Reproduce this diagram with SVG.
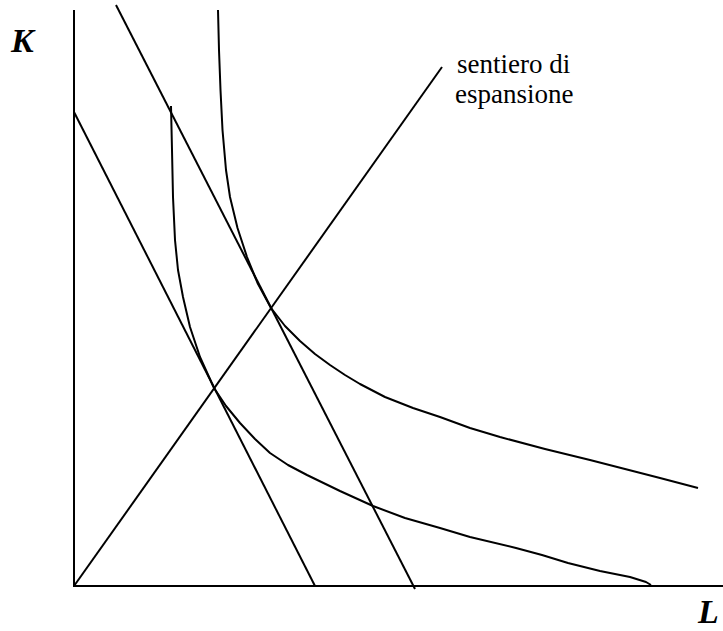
<svg xmlns="http://www.w3.org/2000/svg" width="723" height="631" viewBox="0 0 723 631">
<style>
.ln{fill:none;stroke:#000;stroke-width:2;stroke-linejoin:round;stroke-linecap:butt}
.ax{font-family:"Liberation Serif","Times New Roman",serif;font-style:italic;font-weight:bold;font-size:34px;fill:#000}
.lb{font-family:"Liberation Serif","Times New Roman",serif;font-size:27px;fill:#000}
</style>
<rect width="723" height="631" fill="#fff"/>
<g id="axes">
<line class="ln" x1="74" y1="10" x2="74" y2="587"/>
<line class="ln" x1="73" y1="586" x2="723" y2="586"/>
<text class="ax" x="11" y="52">K</text>
<text class="ax" x="698" y="623">L</text>
</g>
<g id="budget-lines">
<line class="ln" x1="74" y1="112" x2="315" y2="586"/>
<line class="ln" x1="116" y1="5" x2="415" y2="589"/>
</g>
<g id="expansion-path">
<line class="ln" x1="74" y1="586" x2="442" y2="67"/>
<text class="lb" x="457" y="73">sentiero di</text>
<text class="lb" x="455" y="103">espansione</text>
</g>
<g id="isoquants">
<polyline class="ln" points="171,106 172,150 173,197 175,240 178,270 183,297 190,327 200,357 214,388 226,406 240,423 255,439 270,453 288,465 307,475 340,491 373,506 405,518 440,528 470,537 516,548 542,555 568,563 600,571 630,577 646,582 651,585"/>
<polyline class="ln" points="218,10 219,50 220.5,90 222.5,130 226,170 230,197 237.5,228 247,257 257.5,283 271,308 285,326 300,341 315,354 330,365 345,375 360,384 385,397 413,408 440,417 470,428 500,437 545,449 590,460 625,469 660,478 698,488"/>
</g>
</svg>
